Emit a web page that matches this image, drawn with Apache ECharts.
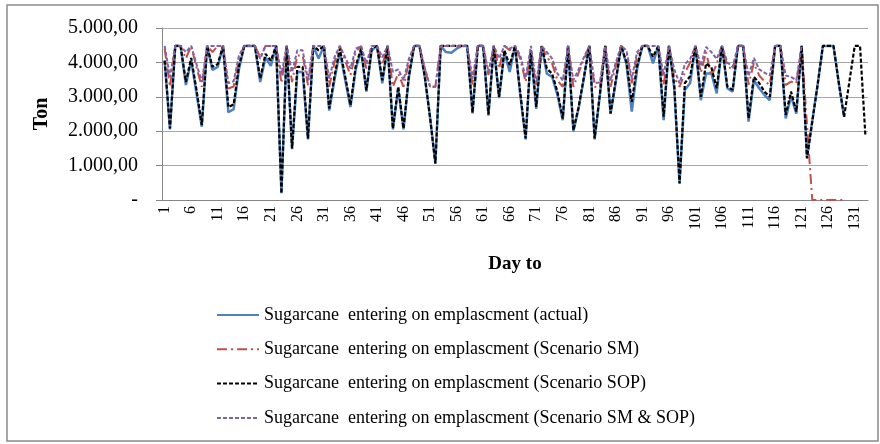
<!DOCTYPE html>
<html><head><meta charset="utf-8">
<script src="https://cdn.jsdelivr.net/npm/echarts@6/dist/echarts.min.js"></script>
<style>html,body{margin:0;padding:0;background:#fff}#c{width:880px;height:444px}</style>
</head><body><div id="c"></div>
<script>
const T = 4480;
const days = Array.from({length:133},(_,i)=>String(i+1));
const actual = [4050,2050,T,T,3340,4050,3100,2130,T,3780, 3870,T,2550,2640,3800,T,T,T,3430,4150, 3900,T,200,T,1480,3720,3720,1760,T,4110,
 T,2600,3500,4300,3500,2700,3800,4350,3150,4350, T,3390,T,2050,3250,2050,3550,T,T,3590, 2400,1060,T,4300,4280,4400,T,T,2520,T,
 T,2450,T,2960,4300,3720,T,3050,1760,4300, 2650,T,3670,3580,3050,2320,T,1990,2680,3560, T,1760,3050,T,2500,3450,T,3950,2570,3800,
 T,T,3970,T,2320,T,3250,480,3200,3400, T,2900,3680,3680,3100,T,3250,3150,T,T, 2280,3480,3250,3050,2900,T,T,2370,3020,2510,
 T,1250,2300,3340,T,T,T,3400,2420,null, null,null,null];
const sm = [4400,3290,T,T,4110,T,3850,3290,T,4300, T,T,3240,3300,4100,T,T,T,4150,T, T,T,3400,T,3430,4200,4200,3340,T,T,
 T,3290,4000,T,4050,3630,4300,T,3820,T, T,3920,T,3290,3680,3290,4000,T,T,3800, 3290,3290,T,T,T,T,T,T,3340,T,
 T,3630,T,3820,T,4350,T,4100,3430,4300, 3290,T,4160,3960,3480,3290,T,3290,3700,4100, T,3290,3290,T,3290,3900,T,4300,3390,4200,
 T,T,T,T,3340,T,3550,3290,3700,4000, T,3700,4300,3600,3950,T,3900,3780,T,T, 3350,3980,3620,3450,3350,T,T,3340,3440,3390,
 T,2200,0,0,0,0,0,0,0,null, null,null,null];
const sop = [4050,2080,T,T,3430,4130,3200,2180,T,3870, 3950,T,2700,2780,3900,T,T,T,3530,4250, 4050,T,190,T,1500,3870,3870,1790,T,4350,
 T,2660,3600,4400,3600,2760,3900,4400,3190,4400, T,3480,T,2080,3290,2080,3600,T,T,3590, 2400,1060,T,T,T,T,T,T,2540,T,
 T,2490,T,3000,4350,3920,T,3100,1790,4350, 2710,T,3820,3670,3140,2370,T,2030,2710,3590, T,1790,3100,T,2520,3490,T,4000,2850,3900,
 T,T,4160,T,2420,T,3340,480,3400,3600, T,3000,3970,3850,3250,T,3300,3200,T,T, 2370,3580,3400,3150,3000,T,T,2470,3150,2570,
 T,1210,2270,3340,T,T,T,3400,2420,3450, T,T,1890];
const smsop = [T,3580,T,T,4300,T,3950,3430,T,T, T,T,3400,3450,4200,T,T,T,4100,T, T,T,3650,T,3720,4350,4350,3480,T,T,
 T,3530,4150,T,4150,3820,4400,T,3970,T, T,4150,T,3720,3800,3480,4100,T,T,3850, 3300,3290,T,T,T,T,T,T,3530,T,
 T,3720,T,4110,T,4400,T,4200,3550,T, 3390,T,4300,4110,3670,3480,T,3480,3800,4150, T,3400,3420,T,3480,4000,T,4350,3530,4300,
 T,T,T,T,3630,T,3800,3390,3950,4100, T,3900,4450,4300,4100,T,4000,3870,T,T, 3600,4130,3800,3700,3620,T,T,3620,3580,3480,
 T,null,null,null,null,null,null,null,null,null, null,null,null];
const names = ['Sugarcane  entering on emplascment (actual)','Sugarcane  entering on emplascment (Scenario SM)','Sugarcane  entering on emplascment (Scenario SOP)','Sugarcane  entering on emplascment (Scenario SM & SOP)'];
const serif = 'Liberation Serif';
function fmt(v){ if(v===0) return '-'; const s=String(v); return s.replace(/\B(?=(\d{3})+(?!\d))/g,'.')+',00'; }
const chart = echarts.init(document.getElementById('c'));
chart.setOption({
  animation:false,
  graphic:[{type:'rect',shape:{x:7,y:5,width:871,height:436},style:{fill:'none',stroke:'#8a8a8a',lineWidth:1.5},silent:true}],
  grid:{left:162,right:12,top:28,bottom:244},
  legend:{orient:'vertical',left:216,top:305,padding:0,itemWidth:42,itemHeight:14,itemGap:14.3,
    itemStyle:{opacity:0},
    textStyle:{fontFamily:serif,fontSize:18,color:'#000',lineHeight:20},
    data:names},
  xAxis:{type:'category',data:days,boundaryGap:true,
    name:'Day to',nameLocation:'middle',nameGap:55,
    nameTextStyle:{fontFamily:serif,fontSize:19,fontWeight:'bold',color:'#000'},
    axisLine:{lineStyle:{color:'#868686',width:1}},
    axisTick:{interval:0,length:5,lineStyle:{color:'#868686'}},
    axisLabel:{interval:4,rotate:90,fontFamily:serif,fontSize:16,color:'#000',margin:6},
    splitLine:{show:false}},
  yAxis:{type:'value',min:0,max:5000,interval:1000,
    name:'Ton',nameLocation:'middle',nameGap:110,
    nameTextStyle:{fontFamily:serif,fontSize:20,fontWeight:'bold',color:'#000'},
    axisLine:{show:true,lineStyle:{color:'#868686'}},
    axisTick:{show:true,length:6,lineStyle:{color:'#868686'}},
    axisLabel:{formatter:fmt,fontFamily:serif,fontSize:20,color:'#000',margin:24},
    splitLine:{lineStyle:{color:'#a6a6a6',width:1}}},
  series:[
    {name:names[0],type:'line',data:actual,symbol:'none',lineStyle:{color:'#4F81BD',width:2.5,type:'solid'},itemStyle:{color:'#4F81BD'}},
    {name:names[1],type:'line',data:sm,symbol:'none',lineStyle:{color:'#C0504D',width:2,type:[10,4,2,4]},itemStyle:{color:'#C0504D'}},
    {name:names[2],type:'line',data:sop,symbol:'none',lineStyle:{color:'#000',width:2.2,type:[4,2]},itemStyle:{color:'#000'}},
    {name:names[3],type:'line',data:smsop,symbol:'none',lineStyle:{color:'#8064A2',width:2,type:[4,2]},itemStyle:{color:'#8064A2'}}
  ]
});
</script></body></html>
